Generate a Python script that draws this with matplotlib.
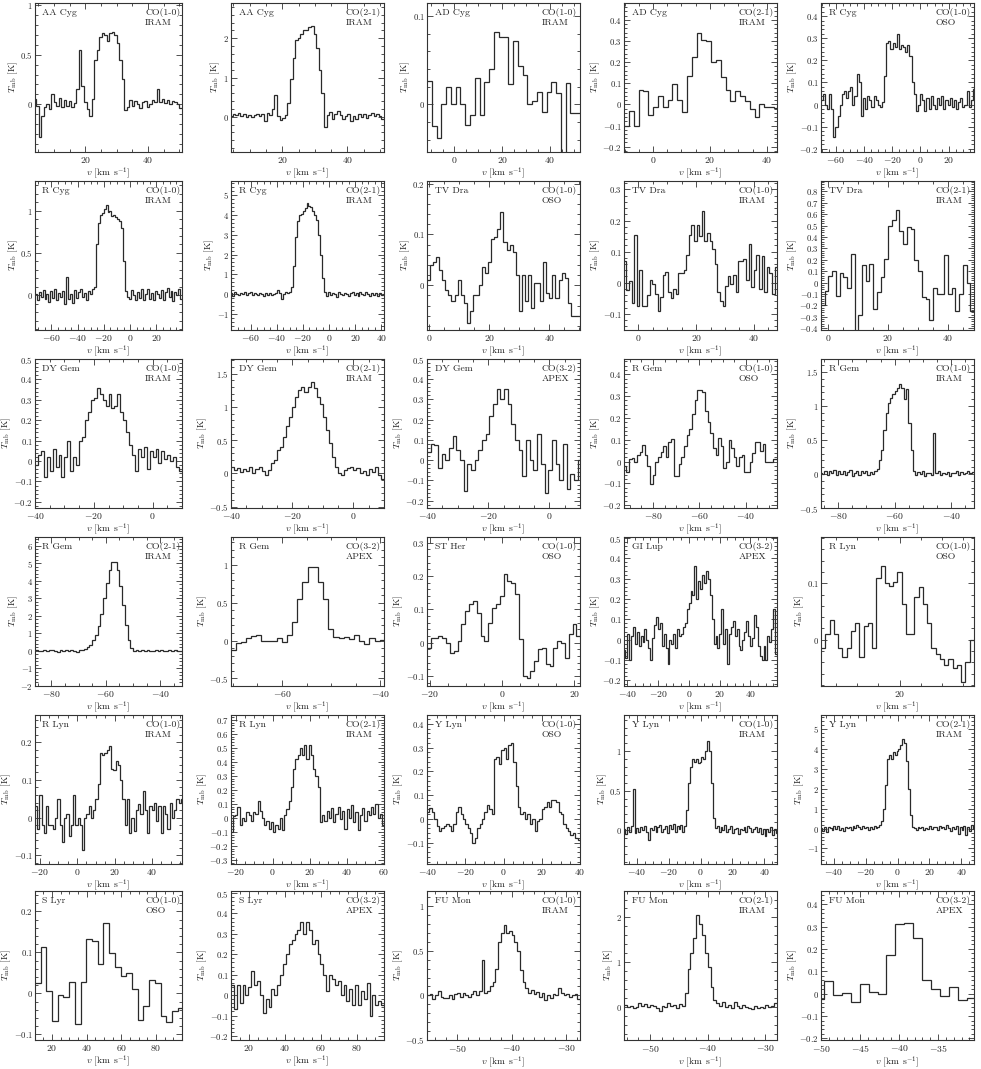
import numpy as np
import matplotlib
matplotlib.use("Agg")
import matplotlib.pyplot as plt
from matplotlib.ticker import MultipleLocator, AutoMinorLocator, FuncFormatter

plt.rcParams['font.family'] = ['cmr10', 'DejaVu Serif']
plt.rcParams['mathtext.fontset'] = 'cm'
plt.rcParams['axes.formatter.use_mathtext'] = True

# ---------------- panel metadata ----------------
stars = ["AA Cyg", "AA Cyg", "AD Cyg", "AD Cyg", "R Cyg",
         "R Cyg", "R Cyg", "TV Dra", "TV Dra", "TV Dra",
         "DY Gem", "DY Gem", "DY Gem", "R Gem", "R Gem",
         "R Gem", "R Gem", "ST Her", "GI Lup", "R Lyn",
         "R Lyn", "R Lyn", "Y Lyn", "Y Lyn", "Y Lyn",
         "S Lyr", "S Lyr", "FU Mon", "FU Mon", "FU Mon"]
lines = ["CO(1-0)", "CO(2-1)", "CO(1-0)", "CO(2-1)", "CO(1-0)",
         "CO(1-0)", "CO(2-1)", "CO(1-0)", "CO(1-0)", "CO(2-1)",
         "CO(1-0)", "CO(2-1)", "CO(3-2)", "CO(1-0)", "CO(1-0)",
         "CO(2-1)", "CO(3-2)", "CO(1-0)", "CO(3-2)", "CO(1-0)",
         "CO(1-0)", "CO(2-1)", "CO(1-0)", "CO(1-0)", "CO(2-1)",
         "CO(1-0)", "CO(3-2)", "CO(1-0)", "CO(2-1)", "CO(3-2)"]
telescopes = ["IRAM", "IRAM", "IRAM", "IRAM", "OSO",
              "IRAM", "IRAM", "OSO", "IRAM", "IRAM",
              "IRAM", "IRAM", "APEX", "OSO", "IRAM",
              "IRAM", "APEX", "OSO", "APEX", "OSO",
              "IRAM", "IRAM", "OSO", "IRAM", "IRAM",
              "OSO", "APEX", "IRAM", "IRAM", "APEX"]

# first channel centre velocity and channel width (km/s)
v_first = [4.0, 4.4, -10.5, -9.35, -70.0,
           -72.0, -75.0, -0.3, -4.6, -1.8,
           -39.5, -39.5, -39.4, -92.0, -86.0,
           -85.5, -70.0, -20.2, -42.0, 2.0,
           -22.0, -22.0, -39.35, -48.0, -48.0,
           11.7, 11.0, -55.25, -54.25, -50.17]
v_width = [0.8, 0.8, 2.0, 1.7, 1.5,
           1.5, 1.5, 1.02, 0.9, 1.25,
           1.0, 1.0, 1.2, 1.13, 0.8,
           1.0, 1.05, 1.06, 1.25, 1.0,
           1.2, 1.2, 1.25, 1.2, 1.2,
           3.3, 1.6, 0.5, 0.5, 1.14]

# ---------------- spectra (T_mb in K) ----------------
T_aacyg_10 = [0.05, -0.02, -0.33, -0.12, -0.03, 0.00, -0.05, 0.10, 0.02, -0.02,
              0.06, -0.03, 0.04, -0.02, 0.03, -0.03, 0.01, 0.15, 0.55, 0.18,
              0.02, -0.05, -0.12, 0.05, 0.45, 0.55, 0.68, 0.72, 0.70, 0.64,
              0.72, 0.73, 0.70, 0.62, 0.45, 0.25, -0.06, -0.03, 0.04, -0.02,
              0.03, 0.00, -0.04, 0.02, 0.03, -0.03, 0.00, 0.04, 0.02, 0.15,
              0.02, 0.05, 0.01, 0.04, 0.00, 0.03, 0.02, 0.00, -0.04]
T_aacyg_21 = [0.02, 0.08, 0.05, 0.10, 0.02, 0.06, -0.02, 0.05, 0.00, 0.04,
              0.07, 0.03, 0.08, -0.12, 0.10, 0.05, 0.20, 0.55, 0.02, -0.08,
              -0.03, 0.05, 0.35, 0.95, 1.50, 1.95, 2.00, 2.10, 2.20, 2.22,
              2.30, 2.32, 2.10, 1.75, 1.20, 0.60, -0.25, 0.05, 0.12, -0.05,
              0.08, 0.15, 0.05, -0.05, 0.03, 0.08, -0.10, 0.02, -0.05, 0.06,
              0.00, 0.08, -0.03, 0.05, 0.10, 0.02, 0.07, 0.03, -0.05]
T_adcyg_10 = [0.027, -0.024, -0.038, 0.0, 0.020, 0.0, 0.020, 0.0, -0.023, -0.012,
              0.030, -0.012, 0.025, 0.040, 0.082, 0.077, 0.076, 0.023, 0.072, 0.043,
              0.033, 0.0, 0.004, 0.014, -0.009, 0.014, 0.025, 0.013, -0.07, 0.024,
              -0.010, -0.010]
T_adcyg_21 = [-0.10, -0.03, -0.10, 0.07, 0.065, -0.05, -0.01, 0.04, -0.01, 0.02,
              0.095, 0.02, -0.035, 0.135, 0.225, 0.34, 0.305, 0.30, 0.20, 0.21,
              0.13, 0.07, 0.015, 0.065, 0.04, 0.015, -0.02, -0.06, 0.0, -0.01,
              -0.01, -0.015]
T_rcyg_oso = [0.02, 0.05, 0.00, -0.02, 0.05, -0.02, -0.145, -0.10, -0.05, 0.00,
              0.05, 0.06, 0.03, 0.06, 0.08, 0.00, 0.04, 0.14, 0.10, -0.05,
              0.03, -0.02, 0.04, 0.02, -0.01, 0.04, 0.02, 0.00, -0.01, 0.01,
              0.13, 0.28, 0.29, 0.25, 0.28, 0.26, 0.32, 0.25, 0.27, 0.26,
              0.24, 0.27, 0.22, 0.10, 0.05, -0.03, 0.00, 0.05, 0.02, -0.03,
              0.03, -0.02, 0.04, 0.00, -0.02, 0.03, 0.00, 0.04, -0.02, 0.02,
              0.00, 0.03, -0.01, 0.02, -0.02, 0.01, 0.03, -0.01, 0.00, 0.06,
              -0.01, 0.02, 0.07, -0.03]
T_rcyg_10 = [0.02, -0.05, 0.04, -0.02, 0.06, -0.04, 0.01, -0.08, 0.05, -0.03,
             0.07, -0.06, 0.03, -0.02, 0.05, -0.10, 0.22, -0.04, 0.02, -0.09,
             0.06, -0.03, 0.04, 0.08, -0.02, 0.03, -0.06, 0.05, 0.01, 0.07,
             0.10, 0.60, 0.85, 0.95, 0.97, 1.02, 1.07, 0.98, 1.00, 0.94,
             0.95, 0.92, 0.90, 0.88, 0.80, 0.40, 0.05, -0.02,
             -0.04, 0.06, 0.00, -0.06, 0.04, -0.03, 0.07, -0.05, 0.02, 0.08,
             -0.04, 0.03, -0.06, 0.05, 0.01, -0.03, 0.06, -0.05, 0.04, 0.09,
             -0.02, 0.05, -0.07, 0.04, 0.00, 0.07, -0.04]
T_rcyg_21 = [0.05, -0.08, 0.10, 0.02, -0.05, 0.08, 0.00, 0.12, -0.03, 0.06,
             0.10, -0.04, 0.07, 0.02, -0.06, 0.05, 0.00, -0.08, 0.04, -0.02,
             0.06, -0.05, 0.02, 0.08, 0.20, 0.05, -0.25, 0.02, 0.10, 0.05,
             0.10, 0.35, 1.40, 2.90, 3.70, 4.00, 4.05, 4.20, 4.35, 4.60,
             4.45, 4.40, 4.20, 4.00, 3.75, 3.00, 2.00, 0.80, 0.10,
             -0.10, 0.12, -0.05, 0.08, 0.02, -0.12, 0.10, 0.00, -0.06, 0.08,
             0.03, -0.08, 0.06, 0.10, -0.03, 0.05, -0.07, 0.09, 0.01, -0.05,
             0.12, 0.00, -0.08, 0.06, -0.02, 0.08, -0.10, 0.04, -0.03, 0.02]
T_tvdra_oso = [0.01, 0.04, 0.045, 0.055, 0.03, 0.01, -0.01, -0.02, -0.03, -0.02,
               0.01, -0.02, -0.035, -0.075, -0.05, -0.02, -0.02, 0.0, 0.035, 0.025,
               0.045, 0.09, 0.095, 0.11, 0.145, 0.085, 0.07, 0.08, 0.065, 0.02,
               -0.05, 0.02, -0.03, 0.02, -0.045, 0.005, 0.005, -0.03, 0.045, -0.015,
               -0.025, 0.02, -0.025, 0.01, 0.025, 0.015, -0.035, -0.06, -0.06, -0.06]
T_tvdra_10 = [0.07, -0.025, 0.005, -0.065, 0.155, -0.075, 0.04, -0.075, -0.075, -0.04,
              0.01, -0.005, -0.035, -0.09, -0.045, 0.025, 0.035, -0.03, -0.05, -0.02,
              -0.035, 0.03, 0.03, 0.04, 0.09, 0.155, 0.185, 0.135, 0.185, 0.15,
              0.23, 0.135, 0.16, 0.135, 0.11, 0.06, -0.03, -0.06, -0.075, -0.01,
              0.02, -0.005, 0.025, -0.03, 0.07, 0.07, 0.075, 0.01, 0.125, -0.015,
              0.04, 0.09, -0.02, 0.085, -0.03, 0.05, 0.03, -0.035, 0.05]
T_tvdra_21 = [-0.20, -0.07, 0.06, 0.10, -0.12, 0.08, 0.05, -0.05, 0.25, -0.45,
              -0.28, 0.15, 0.01, 0.16, -0.23, -0.08, 0.05, 0.21, 0.50, 0.55,
              0.64, 0.45, 0.34, 0.49, 0.47, 0.20, 0.10, -0.13, -0.14, -0.33,
              -0.05, -0.10, -0.10, 0.24, -0.10, -0.05, -0.25, -0.10, 0.15, 0.00,
              -0.25]
T_dygem_10 = [-0.02, 0.03, 0.05, -0.08, 0.02, -0.05, 0.06, -0.03, 0.03, -0.08,
              0.02, 0.10, -0.05, 0.02, -0.02, 0.10, 0.12, 0.20, 0.24, 0.30,
              0.31, 0.36, 0.33, 0.30, 0.27, 0.33, 0.26, 0.27, 0.33, 0.24,
              0.20, 0.14, 0.08, 0.03, -0.05, 0.06, 0.02, 0.07, -0.04, 0.05,
              0.02, 0.06, -0.01, 0.05, 0.01, 0.03, 0.00, 0.02, -0.03, -0.05]
T_dygem_21 = [0.10, 0.05, 0.08, 0.02, 0.07, 0.03, 0.09, 0.00, 0.06, 0.10,
              0.03, -0.02, 0.05, 0.15, 0.20, 0.35, 0.40, 0.55, 0.72, 0.85,
              1.00, 1.15, 1.25, 1.30, 1.22, 1.30, 1.37, 1.28, 1.15, 1.05,
              0.85, 0.65, 0.45, 0.25, 0.10, 0.00, -0.02, 0.05, 0.08, 0.10,
              0.05, 0.08, 0.00, 0.04, -0.03, 0.06, 0.02, 0.09, -0.02, -0.08]
T_dygem_32 = [0.04, 0.08, 0.075, -0.04, 0.03, 0.0, 0.06, 0.12, 0.05, 0.0,
              -0.15, -0.02, -0.05, 0.0, 0.05, 0.10, 0.13, 0.22, 0.28, 0.35,
              0.30, 0.35, 0.28, 0.18, 0.10, 0.05, -0.08, 0.10, 0.0, -0.05,
              0.13, -0.02, -0.16, -0.05, 0.10, -0.02, -0.10, 0.08, -0.14, -0.07,
              -0.10, 0.0]
T_rgem_oso = [-0.02, -0.05, 0.01, 0.015, 0.0, 0.03, 0.045, 0.075, 0.03, -0.02,
              -0.105, -0.06, 0.0, 0.02, 0.045, 0.07, 0.02, 0.09, 0.105, -0.065,
              -0.065, -0.01, 0.02, 0.07, 0.12, 0.15, 0.22, 0.28, 0.33, 0.33,
              0.32, 0.23, 0.18, 0.13, 0.06, 0.03, 0.11, 0.07, -0.03, 0.0,
              0.10, 0.06, 0.02, -0.02, 0.02, 0.03, -0.05, -0.05, 0.0, 0.04,
              0.09, 0.09, 0.05, 0.08, 0.0, 0.0, 0.0, 0.01, 0.01]
T_rgem_10 = [0.02, 0.00, 0.04, -0.02, 0.05, 0.01, 0.06, -0.01, 0.04, 0.00,
             0.05, -0.02, 0.03, 0.06, -0.03, 0.02, 0.05, -0.02, 0.04, 0.01,
             0.05, -0.01, 0.03, 0.00, 0.04, 0.08, 0.20, 0.35, 0.65, 0.90,
             1.05, 1.12, 1.18, 1.22, 1.27, 1.32, 1.26, 1.10, 1.25, 0.75,
             0.35, 0.05, -0.02, 0.03, 0.00, 0.04, -0.03, 0.02, 0.01, -0.02,
             0.60, 0.02, 0.04, -0.01, 0.02, 0.00, 0.03, -0.03, 0.02, 0.01,
             0.04, -0.02, 0.03, 0.00, 0.02, 0.04, 0.01, 0.03]
T_rgem_21 = [0.05, -0.03, 0.02, 0.06, -0.02, 0.03, 0.08, 0.00, -0.05, 0.04,
             0.02, 0.07, -0.03, 0.05, 0.00, -0.04, 0.03,
             0.05, 0.10, 0.20, 0.35, 0.60, 0.90, 1.40, 2.10, 3.00, 3.90,
             4.60, 5.05, 5.10, 4.60, 3.70, 2.60, 1.50, 0.60, 0.15, 0.02,
             0.05, -0.02, 0.03, 0.00, 0.04, -0.03, 0.02, 0.05, -0.01, 0.03,
             0.00, -0.02, 0.04, 0.01, 0.03, -0.02, 0.02]
T_rgem_32 = [-0.12, -0.03, -0.02, 0.03, 0.06, 0.08, 0.0, -0.01, -0.01, 0.04,
             -0.02, 0.08, 0.25, 0.55, 0.78, 0.97, 0.97, 0.77, 0.55, 0.15,
             0.05, 0.03, 0.05, 0.02, 0.07, 0.0, -0.05, 0.03, -0.01, 0.01]
T_sther_oso = [-0.015, 0.015, 0.015, 0.02, 0.015, 0.0, -0.03, -0.025, 0.005, 0.055,
               0.095, 0.115, 0.125, 0.09, 0.02, 0.005, 0.06, 0.105, 0.115, 0.14,
               0.205, 0.185, 0.18, 0.145, 0.01, -0.1, -0.105, -0.085, -0.055, -0.02,
               -0.015, -0.065, -0.07, -0.015, 0.005, 0.0, -0.045, 0.025, 0.055, 0.02]
T_gilup_32 = [-0.05, -0.09, 0.03, -0.10, 0.02, 0.06, -0.02, 0.04, -0.03, 0.02,
              -0.01, 0.05, 0.00, -0.04, -0.10, 0.01, 0.07, 0.11, 0.05, 0.08,
              -0.03, 0.03, -0.04, -0.12, 0.00, -0.02, 0.03, -0.04, 0.05, 0.02,
              0.03, 0.06, 0.08, 0.15, 0.18, 0.24, 0.22, 0.36, 0.20, 0.29,
              0.25, 0.32, 0.28, 0.34, 0.30, 0.22, 0.10, -0.02, 0.02, -0.04,
              0.03, 0.15, -0.02, 0.05, -0.12, 0.03, 0.06, 0.09, 0.02, 0.05,
              -0.03, -0.05, 0.00, 0.04, 0.09, 0.02, -0.03, 0.01, 0.12, 0.06,
              -0.03, -0.08, -0.10, -0.03, -0.10, 0.02, -0.01, 0.05, 0.15, -0.07]
T_rlyn_oso = [-0.015, 0.01, 0.035, 0.01, -0.015, -0.03, -0.015, 0.015, 0.03, -0.03,
              0.025, 0.03, -0.015, 0.11, 0.13, 0.10, 0.095, 0.103, 0.12, 0.063,
              0.01, 0.01, 0.075, 0.093, 0.063, 0.03, -0.015, -0.025, -0.035, -0.045,
              -0.035, -0.05, -0.045, -0.075, -0.04, 0.0]
T_rlyn_10 = [0.03, -0.03, 0.06, -0.02, -0.04, 0.03, -0.02, -0.02, -0.03, 0.00,
             0.05, -0.02, -0.065, 0.00, 0.01, -0.05, -0.02, 0.06, -0.02, 0.00,
             -0.02, -0.085, 0.00, 0.01, 0.03, 0.00, 0.02, 0.05, 0.09, 0.17,
             0.165, 0.17, 0.18, 0.19, 0.13, 0.125, 0.15, 0.14, 0.10, 0.05,
             -0.02, 0.05, -0.04, 0.00, -0.035, 0.02, 0.035, 0.01, 0.07, 0.02,
             -0.04, 0.03, 0.02, 0.04, -0.01, 0.03, -0.04, 0.03, 0.01, -0.03,
             0.04, 0.00, 0.02, 0.05, 0.04, 0.05]
T_rlyn_21 = [-0.10, 0.01, 0.02, 0.08, -0.05, 0.00, -0.02, 0.04, 0.02, -0.02,
             0.04, 0.03, 0.12, 0.05, 0.00, -0.05, -0.02, -0.08, -0.03, -0.10,
             -0.05, -0.08, 0.00, -0.09, 0.02, 0.06, 0.12, 0.22, 0.35, 0.42,
             0.45, 0.50, 0.45, 0.52, 0.42, 0.52, 0.45, 0.35, 0.30, 0.22,
             -0.03, 0.02, -0.02, 0.05, 0.00, 0.07, -0.03, 0.03, 0.08, -0.01,
             0.05, -0.08, 0.06, 0.00, 0.09, -0.03, 0.04, -0.09, 0.02, 0.07,
             -0.02, 0.05, 0.02, 0.08, 0.03, 0.10, 0.00, 0.03, -0.05]
T_ylyn_oso = [0.03, 0.045, 0.03, 0.00, -0.03, -0.05, -0.04, -0.03, -0.02, -0.03,
              -0.05, -0.02, 0.03, 0.05, 0.02, 0.00, -0.02, -0.04, -0.06, -0.10,
              -0.08, -0.04, -0.02, 0.00, 0.03, 0.06, 0.04, 0.02, 0.25, 0.26,
              0.23, 0.29, 0.30, 0.25, 0.31, 0.32, 0.24, 0.14, 0.05, 0.02,
              0.03, 0.00, 0.02, -0.02, 0.00, -0.05, -0.01, 0.00, 0.04, 0.05,
              0.07, 0.05, 0.08, 0.08, 0.07, 0.03, 0.02, -0.02, -0.04, -0.05,
              -0.07, -0.06, -0.08, -0.09]
T_ylyn_10 = [0.02, -0.05, 0.04, -0.02, 0.05, 0.52, -0.04, 0.03, -0.02, 0.04,
             0.00, 0.05, -0.03, -0.12, 0.03, 0.00, 0.05, -0.02, 0.04, 0.07,
             -0.03, 0.02, 0.05, -0.04, 0.06, 0.01, 0.08, -0.03, 0.05, 0.02,
             0.06, -0.03, 0.05, 0.25, 0.60, 0.80, 0.90, 0.87, 0.90, 0.85,
             0.86, 0.93, 0.90, 1.00, 1.13, 1.00, 0.60, 0.15, 0.03, 0.05,
             -0.02, 0.04, 0.00, 0.06, -0.03, 0.02, 0.05, -0.04, 0.01, 0.03,
             -0.05, 0.02, 0.00, 0.04, -0.02, 0.05, 0.03, -0.03, 0.02, 0.04,
             -0.02, 0.03, -0.05, 0.02, -0.08, 0.01, -0.03, 0.04, -0.06, 0.02,
             -0.04]
T_ylyn_21 = [0.05, -0.10, 0.08, -0.15, 0.10, 0.02, -0.05, 0.15, 0.00, 0.12,
             -0.08, 0.05, -0.12, 0.08, 0.02, 0.10, -0.05, 0.15, 0.05, 0.20,
             0.08, -0.03, 0.12, 0.02, 0.10, -0.05, 0.06, 0.00, 0.15, 0.05,
             0.10, 0.20, 0.40, 1.00, 2.20, 3.50, 3.70, 3.50, 3.85, 3.70,
             3.90, 4.00, 4.20, 4.50, 4.30, 3.40, 2.00, 0.70, 0.10, 0.05,
             -0.05, 0.10, 0.02, 0.08, -0.08, 0.05, 0.00, 0.12, -0.03, 0.06,
             0.10, -0.05, 0.15, 0.05, 0.10, -0.02, 0.18, 0.05, -0.10, 0.10,
             0.00, 0.12, -0.25, 0.08, -0.05, 0.15, -0.30, 0.10, -0.10, 0.20,
             0.00]
T_slyr_oso = [0.025, 0.113, 0.005, -0.068, -0.003, -0.008, 0.028, -0.075, 0.028, 0.132,
              0.128, 0.072, 0.173, 0.098, 0.064, 0.042, 0.05, 0.01, -0.065, -0.032,
              0.033, 0.025, -0.055, -0.07, -0.042, -0.035]
T_slyr_32 = [0.05, -0.07, 0.05, -0.04, 0.05, 0.00, 0.04, 0.12, 0.05, 0.07,
             0.00, -0.09, -0.02, -0.06, 0.03, 0.00, 0.05, 0.10, 0.15, 0.20,
             0.25, 0.27, 0.30, 0.32, 0.36, 0.30, 0.36, 0.32, 0.25, 0.27,
             0.20, 0.15, 0.10, 0.02, 0.10, 0.08, 0.05, 0.07, 0.00, 0.05,
             -0.03, 0.03, -0.05, 0.05, -0.05, 0.02, -0.02, 0.06, -0.10, 0.00,
             -0.05, -0.03, -0.05]
T_fumon_10 = [0.00, 0.02, -0.04, 0.00, 0.05, -0.02, -0.03, -0.03, 0.00, -0.04,
              0.02, 0.03, -0.02, 0.03, 0.00, -0.02, 0.02, 0.05, 0.00, 0.05,
              0.40, 0.03, 0.05, 0.10, 0.15, 0.30, 0.60, 0.70, 0.79, 0.70,
              0.72, 0.68, 0.60, 0.50, 0.28, 0.15, 0.08, 0.03, 0.06, 0.02,
              0.04, -0.02, 0.03, -0.05, 0.00, -0.03, 0.02, 0.00, 0.08, 0.03,
              0.00, 0.02, -0.02, 0.00, 0.02, -0.04]
T_fumon_21 = [0.05, 0.00, 0.03, -0.02, 0.00, 0.08, 0.03, 0.07, 0.00, 0.05,
              0.02, -0.02, -0.10, 0.02, 0.00, 0.08, 0.03, 0.05, -0.02, 0.06,
              0.02, 0.30, 0.85, 1.20, 1.55, 2.05, 1.85, 1.60, 1.20, 0.90,
              0.45, 0.15, 0.08, 0.02, 0.10, 0.00, 0.05, -0.02, 0.10, 0.03,
              -0.03, 0.05, 0.00, -0.02, -0.05, 0.02, -0.03, 0.00, -0.02, 0.05,
              0.00, 0.03, 0.08]
T_fumon_32 = [-0.025, 0.055, -0.005, 0.005, -0.035, 0.042, 0.008, -0.002, 0.175, 0.31,
              0.315, 0.25, 0.063, 0.02, -0.01, 0.028, -0.027, -0.02, 0.045]

spectra = [T_aacyg_10, T_aacyg_21, T_adcyg_10, T_adcyg_21, T_rcyg_oso,
           T_rcyg_10, T_rcyg_21, T_tvdra_oso, T_tvdra_10, T_tvdra_21,
           T_dygem_10, T_dygem_21, T_dygem_32, T_rgem_oso, T_rgem_10,
           T_rgem_21, T_rgem_32, T_sther_oso, T_gilup_32, T_rlyn_oso,
           T_rlyn_10, T_rlyn_21, T_ylyn_oso, T_ylyn_10, T_ylyn_21,
           T_slyr_oso, T_slyr_32, T_fumon_10, T_fumon_21, T_fumon_32]

# ---------------- axis limits / tick steps ----------------
xlims = [(4.0, 50.8), (4.3, 51.2), (-11.5, 52.5), (-10.2, 43.6), (-70.5, 38.0),
         (-72.5, 39.5), (-75.0, 42.0), (-0.8, 50.2), (-5.0, 48.0), (-2.4, 48.8),
         (-40.0, 10.0), (-40.0, 10.0), (-40.0, 10.0), (-92.5, -26.5), (-86.0, -32.0),
         (-86.0, -32.0), (-70.4, -39.2), (-20.7, 21.6), (-42.2, 57.4), (1.5, 37.5),
         (-22.5, 56.0), (-22.5, 60.0), (-40.0, 40.0), (-48.0, 48.0), (-48.0, 48.0),
         (10.1, 95.0), (10.2, 95.0), (-55.5, -27.5), (-54.5, -28.0), (-50.0, -30.4)]
ylims = [(-0.48, 1.02), (-0.9, 2.9), (-0.054, 0.115), (-0.225, 0.48), (-0.215, 0.46),
         (-0.41, 1.35), (-1.8, 5.7), (-0.088, 0.205), (-0.152, 0.327), (-0.415, 0.89),
         (-0.23, 0.5), (-0.52, 1.72), (-0.236, 0.5), (-0.213, 0.47), (-0.5, 1.69),
         (-2.0, 6.5), (-0.6, 1.37), (-0.13, 0.317), (-0.228, 0.505), (-0.082, 0.182),
         (-0.123, 0.272), (-0.33, 0.735), (-0.19, 0.437), (-0.43, 1.46), (-1.78, 5.7),
         (-0.114, 0.25), (-0.22, 0.51), (-0.5, 1.17), (-0.74, 2.59), (-0.207, 0.459)]
xsteps = [20] * 27 + [10, 10, 5]
ysteps = [0.5, 1, 0.1, 0.1, 0.1,
          0.5, 1, 0.1, 0.1, 0.1,
          0.1, 0.5, 0.1, 0.1, 0.5,
          1, 0.5, 0.1, 0.1, 0.1,
          0.1, 0.1, 0.1, 0.5, 1,
          0.1, 0.1, 0.5, 1, 0.1]


def tick_fmt(x, pos):
    if abs(x) < 1e-9:
        return r'$0$'
    return r'$%s$' % ('%.6g' % x)


W, H = 981, 1069
fig = plt.figure(figsize=(W / 100, H / 100), dpi=100)
col_left = [35, 231, 427, 624, 821]
col_w = [147, 153, 153, 153, 153]
ax_h = 149
row_top = [3, 181, 359, 537, 715, 891]

line_col = '#2a2a2a'
txt_col = '#262626'
for i in range(30):
    r, c = divmod(i, 5)
    ax = fig.add_axes([col_left[c] / W, 1 - (row_top[r] + ax_h) / H,
                       col_w[c] / W, ax_h / H])
    ax.set_facecolor('none')
    vals = np.array(spectra[i])
    edges = v_first[i] - v_width[i] / 2 + v_width[i] * np.arange(len(vals) + 1)
    ax.stairs(vals, edges, baseline=None, color=line_col, lw=0.9)
    ax.set_xlim(*xlims[i])
    ax.set_ylim(*ylims[i])
    ax.xaxis.set_major_locator(MultipleLocator(xsteps[i]))
    ax.yaxis.set_major_locator(MultipleLocator(ysteps[i]))
    ax.xaxis.set_minor_locator(AutoMinorLocator())
    ax.yaxis.set_minor_locator(AutoMinorLocator())
    ax.xaxis.set_major_formatter(FuncFormatter(tick_fmt))
    ax.yaxis.set_major_formatter(FuncFormatter(tick_fmt))
    ax.tick_params(which='both', direction='in', top=True, right=True,
                   width=0.6, colors='#333333', labelcolor=txt_col, pad=2)
    ax.tick_params(axis='x', labelsize=7)
    ax.tick_params(axis='y', labelsize=6.3, pad=1.5)
    ax.tick_params(which='major', length=4)
    ax.tick_params(which='minor', length=2)
    for sp in ax.spines.values():
        sp.set_linewidth(0.8)
        sp.set_color('#333333')
    ax.set_xlabel(r'$v$ [km s$^{-1}$]', fontsize=7, color=txt_col, labelpad=0.5)
    ax.set_ylabel(r'$T_{\rm mb}$ [K]', fontsize=6.8, color=txt_col, labelpad=0.3)
    ax.text(0.05, 0.965, stars[i], transform=ax.transAxes, ha='left', va='top',
            fontsize=7, color=txt_col)
    ax.text(0.75, 0.965, lines[i] + '\n' + telescopes[i], transform=ax.transAxes,
            ha='left', va='top', fontsize=7, color=txt_col, linespacing=1.2)

fig.savefig('out.png', dpi=100)
